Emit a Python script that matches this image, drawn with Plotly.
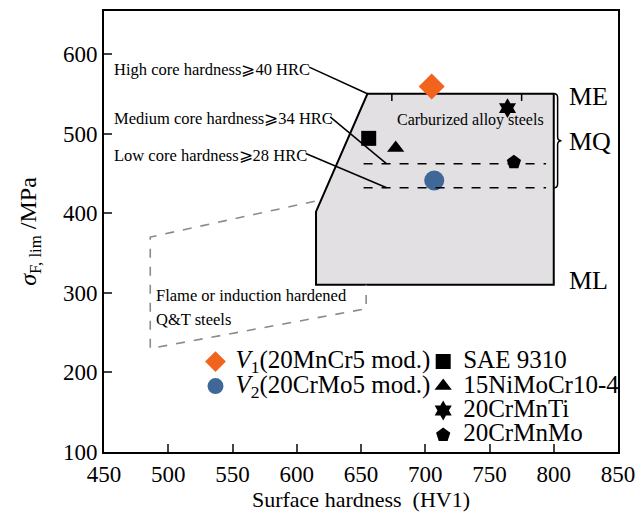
import plotly.graph_objects as go

# ---- data ----
steel_names = ["SAE 9310", "15NiMoCr10-4", "20CrMnTi", "20CrMnMo"]
steel_hv = [656, 677, 764, 769]
steel_sigma = [494, 482, 532, 464]
steel_symbols = ["square", "triangle-up", "hexagram", "pentagon"]

v_names = ["<i>V</i><sub>1</sub>(20MnCr5 mod.)", "<i>V</i><sub>2</sub>(20CrMo5 mod.)"]
v_hv = [705, 707]
v_sigma = [559, 441]
v_colors = ["#F0641E", "#3F6797"]
v_symbols = ["diamond", "circle"]

# carburized alloy steels region (HV, MPa)
carb_hv = [655, 800, 800, 615, 615]
carb_sigma = [550, 550, 310, 310, 402]
# flame / induction hardened Q&T steels region
flame_hv = [614, 486, 486, 654, 654]
flame_sigma = [415, 370, 230, 280, 310]
# core hardness levels
mq_levels = [462, 432]
level_hv = [652, 794]
me_ticks_hv = [674, 775]

xticks = [450, 500, 550, 600, 650, 700, 750, 800, 850]
yticks = [100, 200, 300, 400, 500, 600]

FONT = "Liberation Serif"
LEG_TXT = 25


def big(s):
    return f'<span style="font-size:{LEG_TXT}px">{s}</span>'


fig = go.Figure()

for n, x, y, c, s in zip(v_names, v_hv, v_sigma, v_colors, v_symbols):
    fig.add_trace(go.Scatter(x=[x], y=[y], mode="markers", name=big(n),
                             marker=dict(symbol=s, size=20, color=c, line=dict(width=0)),
                             legend="legend"))
for n, x, y, s in zip(steel_names, steel_hv, steel_sigma, steel_symbols):
    fig.add_trace(go.Scatter(x=[x], y=[y], mode="markers", name=big(n),
                             marker=dict(symbol=s, size=15, color="black", line=dict(width=0)),
                             legend="legend2"))


def poly(xs, ys, close=True):
    p = "M " + " L ".join(f"{a},{b}" for a, b in zip(xs, ys))
    return p + (" Z" if close else "")


shapes = []
shapes.append(dict(type="path", path=poly(carb_hv, carb_sigma), xref="x", yref="y",
                   fillcolor="#E2E0E2", line=dict(color="black", width=2), layer="below"))
shapes.append(dict(type="path", path=poly(flame_hv, flame_sigma, close=False), xref="x", yref="y",
                   line=dict(color="#8A8A8A", width=1.6, dash="dash"), layer="below"))
for lv in mq_levels:
    shapes.append(dict(type="line", x0=level_hv[0], x1=level_hv[1], y0=lv, y1=lv,
                       xref="x", yref="y", line=dict(color="black", width=1.5, dash="dash")))
for t in me_ticks_hv:
    shapes.append(dict(type="line", x0=t, x1=t, y0=carb_sigma[0], y1=carb_sigma[0] - 9,
                       xref="x", yref="y", line=dict(color="black", width=1.5)))
# leader lines
leaders = [((609.7, 583.5), (carb_hv[0], carb_sigma[0])),
           ((626, 521), (670, mq_levels[0])),
           ((607, 475), (670, mq_levels[1]))]
for (a, b), (c, d) in leaders:
    shapes.append(dict(type="line", x0=a, y0=b, x1=c, y1=d, xref="x", yref="y",
                       line=dict(color="black", width=1.5)))
# brace
ytop, ybot = carb_sigma[0], mq_levels[1]
ymid = (ytop + ybot) / 2
brace = (f"M 800.5,{ytop} Q 803,{ytop} 803,{ytop-5} L 803,{ymid+5} "
         f"Q 803,{ymid} 806,{ymid} Q 803,{ymid} 803,{ymid-5} L 803,{ybot+5} "
         f"Q 803,{ybot} 800.5,{ybot}")
shapes.append(dict(type="path", path=brace, xref="x", yref="y",
                   line=dict(color="black", width=1.5)))

ann = []


def txt(x, y, s, size=16, xanchor="left", xref="x", yref="y"):
    ann.append(dict(x=x, y=y, text=s, showarrow=False, xref=xref, yref=yref,
                    xanchor=xanchor, yanchor="middle",
                    font=dict(family=FONT, size=size, color="black")))


txt(456, 581, "High core hardness⩾40 HRC", size=16.5)
txt(456, 519.5, "Medium core hardness⩾34 HRC", size=16.5)
txt(456, 473, "Low core hardness⩾28 HRC", size=16.5)
txt(735, 517, "Carburized alloy steels", xanchor="center")
txt(489, 296, "Flame or induction hardened", size=16.5)
txt(489, 266, "Q&T steels", size=16.5)
txt(810, 547, "ME", size=26)
txt(810, 490, "MQ", size=26)
txt(810, 316, "ML", size=26)

fig.update_layout(
    width=644, height=515,
    margin=dict(l=104, r=24, t=9, b=63),
    paper_bgcolor="white", plot_bgcolor="white",
    font=dict(family=FONT, size=21, color="black"),
    shapes=shapes, annotations=ann,
    showlegend=True,
    legend=dict(x=0.178, y=0.244, xanchor="left", yanchor="top",
                font=dict(family=FONT, size=16.5), bgcolor="rgba(0,0,0,0)",
                itemwidth=30),
    legend2=dict(x=0.621, y=0.244, xanchor="left", yanchor="top",
                 font=dict(family=FONT, size=16.5), bgcolor="rgba(0,0,0,0)",
                 itemwidth=30),
)
fig.update_xaxes(range=[450, 850], tickvals=xticks, ticks="inside", ticklen=8, tickwidth=1.5,
                 showline=True, linecolor="black", linewidth=2, mirror=True,
                 showgrid=False, zeroline=False,
                 title=dict(text="Surface hardness  (HV1)", font=dict(size=22), standoff=2),
                 tickfont=dict(size=23))
fig.update_yaxes(range=[100, 654], tickvals=yticks, ticks="inside", ticklen=8, tickwidth=1.5,
                 showline=True, linecolor="black", linewidth=2, mirror=True,
                 showgrid=False, zeroline=False,
                 title=dict(text="<i>σ</i><sub>F, lim</sub> /MPa", font=dict(size=24), standoff=20),
                 tickfont=dict(size=23))

fig.write_html("out.html")
